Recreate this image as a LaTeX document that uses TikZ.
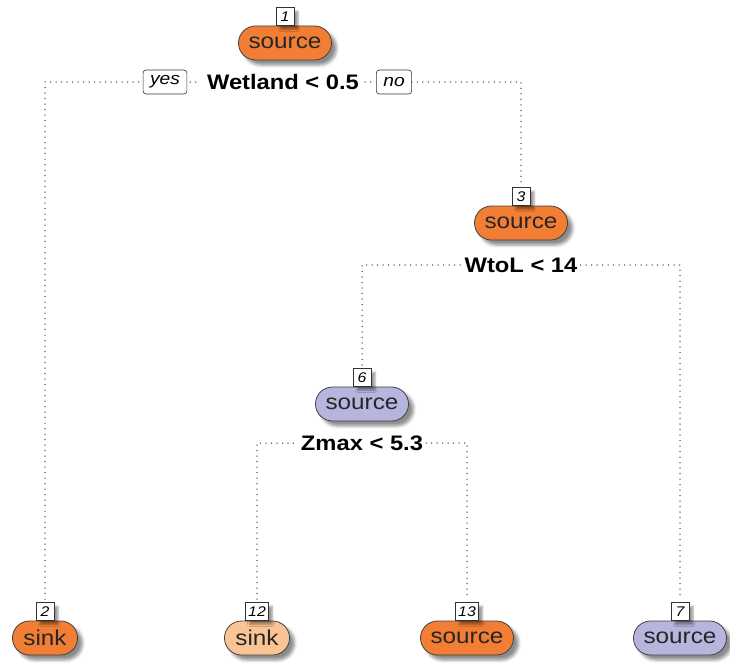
\documentclass[tikz,border=0pt]{standalone}
\usepackage{fontspec}
\setmainfont{Liberation Sans}
\newfontfamily\pillfont[FakeStretch=1.13]{Liberation Sans}
\usetikzlibrary{shapes.misc,shadows.blur,positioning}
\definecolor{orng}{RGB}{241,126,52}
\definecolor{lorng}{RGB}{250,196,148}
\definecolor{lav}{RGB}{181,181,221}
\tikzset{
  pill/.style={rounded rectangle, draw=black!75, line width=0.8pt, minimum height=34pt,
    inner xsep=9pt, inner ysep=0pt, text=black!85,
    font=\pillfont\fontsize{21.5}{21.5}\selectfont,
    blur shadow={shadow xshift=5pt, shadow yshift=-5pt, shadow blur radius=3pt, shadow opacity=45}},
  numbox/.style={draw=black!80, fill=white, line width=0.6pt, minimum height=18pt, minimum width=18pt,
    inner xsep=2.5pt, inner ysep=0pt, font=\pillfont\itshape\fontsize{14}{14}\selectfont,
    blur shadow={shadow xshift=4pt, shadow yshift=-4pt, shadow blur radius=2pt, shadow opacity=40}},
  yesno/.style={draw=black!80, fill=white, rounded corners=3pt, line width=0.6pt, minimum height=24pt,
    inner xsep=7pt, inner ysep=0pt, font=\pillfont\itshape\fontsize{17}{17}\selectfont},
  split/.style={font=\pillfont\bfseries\fontsize{21}{21}\selectfont, inner xsep=3pt, inner ysep=0pt},
  dotline/.style={line width=1.5pt, line cap=round, dash pattern=on 0pt off 5.5pt, black!70},
}
\begin{document}
\begin{tikzpicture}[x=1pt,y=-1pt]
\useasboundingbox (0,0) rectangle (730,669);
% internal nodes
\node[pill, fill=orng] (n1) at (285,43) {source};
\node[numbox, above=0pt of n1] (l1) {1};
\node[pill, fill=orng] (n3) at (521,223) {source};
\node[numbox, above=0pt of n3] (l3) {3};
\node[pill, fill=lav] (n6) at (362,404) {source};
\node[numbox, above=0pt of n6] (l6) {6};
% leaves
\node[pill, fill=orng] (n2) at (45,638) {sink};
\node[numbox, above=0pt of n2] (l2) {2};
\node[pill, fill=lorng] (n12) at (257,638) {sink};
\node[numbox, above=0pt of n12] (l12) {12};
\node[pill, fill=orng] (n13) at (467,638) {source};
\node[numbox, above=0pt of n13] (l13) {13};
\node[pill, fill=lav] (n7) at (680,638) {source};
\node[numbox, above=0pt of n7] (l7) {7};
% split labels
\node[split] (s1) at (283,82) {Wetland < 0.5};
\node[yesno] (yes) at (165,82) {yes};
\node[yesno] (no) at (394,82) {no};
\node[split] (s3) at (521,265) {WtoL < 14};
\node[split] (s6) at (362,443) {Zmax < 5.3};
% connectors
\draw[dotline, shorten <=3pt] (l2.north) |- (yes.west);
\draw[dotline, shorten <=3pt, shorten >=3pt] (yes.east) -- (s1.west);
\draw[dotline, shorten <=3pt, shorten >=3pt] (s1.east) -- (no.west);
\draw[dotline, shorten >=3pt] (no.east) -| (l3.north);
\draw[dotline, shorten <=3pt] (l6.north) |- (s3.west);
\draw[dotline, shorten >=3pt] (s3.east) -| (l7.north);
\draw[dotline, shorten <=3pt] (l12.north) |- (s6.west);
\draw[dotline, shorten >=3pt] (s6.east) -| (l13.north);
\end{tikzpicture}
\end{document}
